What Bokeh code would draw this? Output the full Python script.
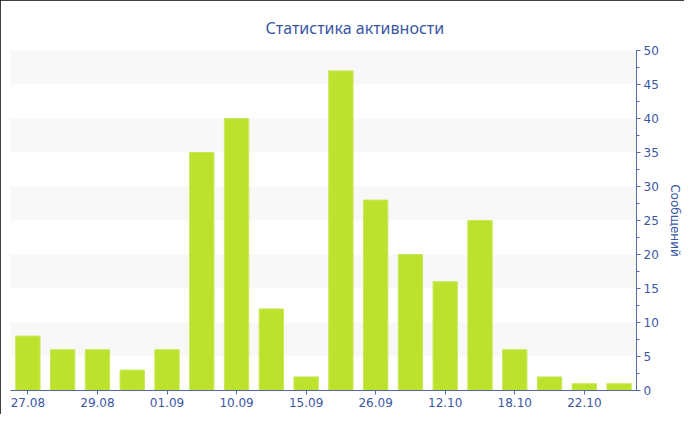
from bokeh.plotting import figure
from bokeh.models import FixedTicker, SingleIntervalTicker, ColumnDataSource
from bokeh.embed import file_html
from bokeh.resources import INLINE

title_text = "Статистика активности"
y_label = "Сообщений"
tick_labels = ["27.08", "29.08", "01.09", "10.09", "15.09", "26.09", "12.10", "18.10", "22.10"]
counts = [8, 6, 6, 3, 6, 35, 40, 12, 2, 47, 28, 20, 16, 25, 6, 2, 1, 1]

idx = list(range(len(counts)))
tick_pos = idx[::2][:len(tick_labels)]

BLUE = "#3b57a4"
AXIS = "#5569aa"

p = figure(width=684, height=414, x_range=(-0.5, len(counts) - 0.5), y_range=(0, 50),
           y_axis_location="right", output_backend="svg", toolbar_location=None,
           min_border_left=10, min_border_top=50, min_border_bottom=24, min_border_right=44)
p.styles = {"outline": "2px solid black", "outline-offset": "-2px"}
p.outline_line_color = None
p.background_fill_color = "white"
p.border_fill_color = "white"

p.title.text = title_text
p.title.align = "left"
p.title.offset = 255
p.title.text_color = BLUE
p.title.text_font = "Noto Sans"
p.title.text_font_size = "16px"
p.title.text_font_style = "normal"
p.title.standoff = 23

src = ColumnDataSource(dict(x=idx, top=counts))
p.vbar(x="x", top="top", width=0.7, bottom=0, source=src,
       fill_color="#bde22e", line_color="#c8e85a", line_width=1)

# axes
xa = p.xaxis[0]
xa.ticker = FixedTicker(ticks=tick_pos, minor_ticks=[])
xa.major_label_overrides = {i: t for i, t in zip(tick_pos, tick_labels)}
ya = p.yaxis[0]
ya.ticker = SingleIntervalTicker(interval=5, num_minor_ticks=2)
ya.axis_label = y_label
for ax in (xa, ya):
    ax.axis_line_color = AXIS
    ax.major_tick_line_color = AXIS
    ax.minor_tick_line_color = AXIS
    ax.major_tick_in = 0
    ax.major_tick_out = 4
    ax.minor_tick_in = 0
    ax.minor_tick_out = 3
    ax.major_label_text_color = BLUE
    ax.major_label_text_font = "DejaVu Sans"
    ax.major_label_text_font_size = "12px"
    ax.major_label_standoff = 3
ya.axis_label_text_color = BLUE
ya.axis_label_text_font = "DejaVu Sans"
ya.axis_label_text_font_size = "12px"
ya.axis_label_text_font_style = "normal"
ya.axis_label_standoff = 6

p.xgrid.grid_line_color = None
p.ygrid.grid_line_color = None
p.ygrid.band_fill_color = "#f0f0f0"
p.ygrid.band_fill_alpha = 0.45

open("out.html", "w").write(file_html(p, INLINE))
